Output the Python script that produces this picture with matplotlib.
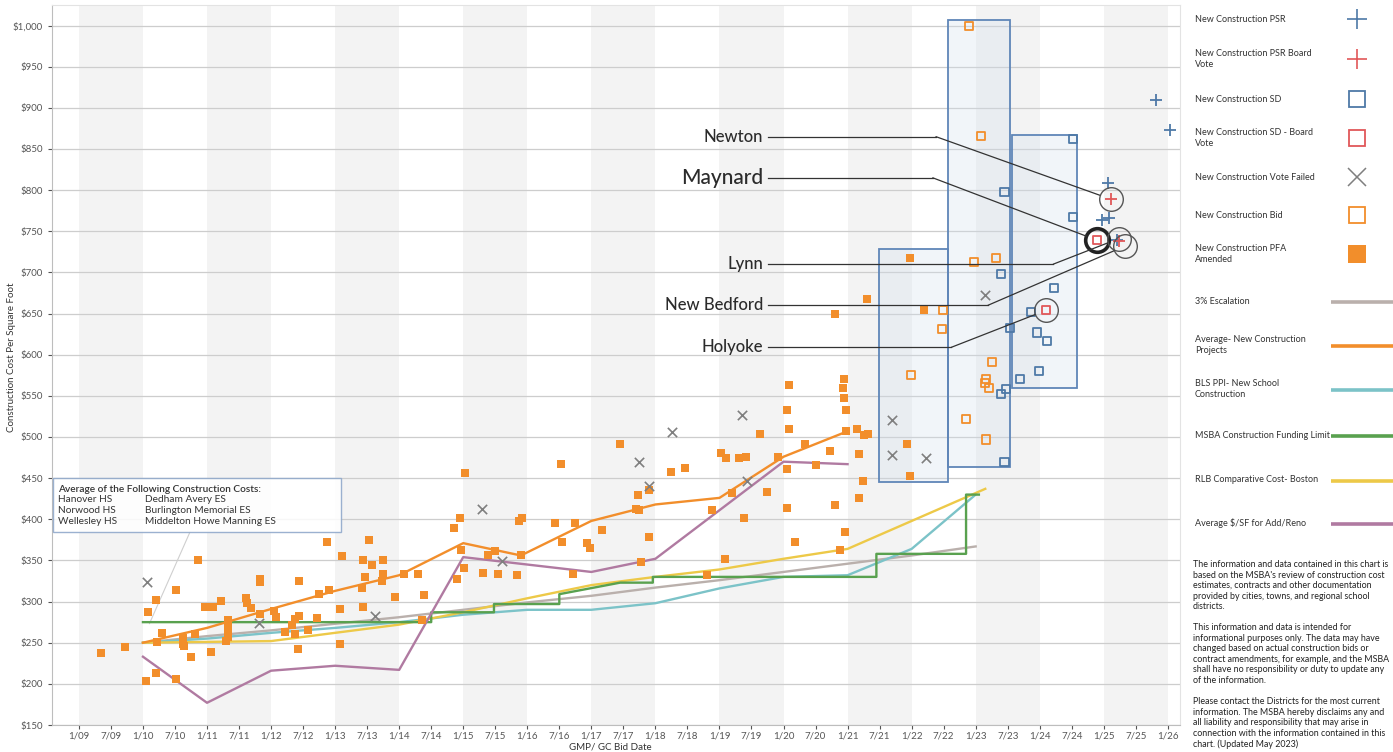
import matplotlib
matplotlib.use("Agg")
import matplotlib.pyplot as plt
from matplotlib.patches import Rectangle
import matplotlib.transforms as mtransforms

plt.rcParams['font.family'] = ['Lato', 'DejaVu Sans']

# ---------------- data ----------------
pfa_x = [2009.35, 2009.72, 2010.04, 2010.08, 2010.21, 2010.21, 2010.22, 2010.29, 2010.52, 2010.52,
         2010.63, 2010.63, 2010.64, 2010.75, 2010.81, 2010.86, 2010.97, 2011.03, 2011.09, 2011.07,
         2011.22, 2011.32, 2011.32, 2011.32, 2011.32, 2011.30, 2011.61, 2011.62, 2011.69, 2011.82,
         2011.83, 2011.82, 2012.04, 2012.07, 2012.22, 2012.33, 2012.37, 2012.44, 2012.37, 2012.42,
         2012.44, 2012.58, 2012.71, 2012.75, 2012.90, 2012.87, 2013.10, 2013.07, 2013.07, 2013.43,
         2013.58, 2013.74, 2013.47, 2013.75, 2013.73, 2013.42, 2013.44, 2013.53, 2013.93, 2014.08,
         2014.30, 2014.38, 2014.36, 2014.96, 2015.01, 2014.90, 2014.86, 2014.95, 2015.02, 2015.38,
         2015.50, 2015.31, 2015.55, 2015.84, 2015.90, 2015.87, 2015.92, 2016.53, 2016.44, 2016.75,
         2016.54, 2016.72, 2016.94, 2016.98, 2017.16, 2017.45, 2017.73, 2017.90, 2017.69, 2017.75,
         2017.90, 2017.78, 2018.25, 2018.47, 2018.81, 2018.89, 2019.08, 2019.03, 2019.11, 2019.19,
         2019.31, 2019.42, 2019.39, 2019.64, 2019.74, 2019.92, 2020.06, 2020.05, 2020.18, 2020.09,
         2020.06, 2020.09, 2020.33, 2020.50, 2020.73, 2020.80, 2020.88, 2020.96, 2020.94, 2020.93,
         2020.94, 2020.98, 2020.97, 2021.14, 2021.26, 2021.32, 2021.18, 2021.24, 2021.18, 2020.80,
         2021.31, 2021.97, 2022.20, 2021.93, 2021.97]
pfa_y = [237, 245, 203, 287, 302, 213, 251, 262, 314, 206,
         256, 249, 246, 233, 261, 350, 294, 293, 293, 239,
         301, 278, 268, 262, 257, 252, 304, 298, 292, 327,
         324, 285, 289, 281, 263, 271, 279, 282, 260, 242,
         325, 265, 280, 309, 314, 372, 355, 291, 248, 350,
         345, 350, 330, 333, 325, 316, 293, 375, 306, 333,
         334, 308, 277, 363, 341, 327, 390, 401, 456, 357,
         361, 335, 333, 332, 357, 398, 401, 467, 395, 395,
         372, 334, 371, 365, 387, 491, 430, 435, 413, 411,
         378, 348, 457, 462, 332, 411, 352, 480, 475, 432,
         474, 476, 401, 504, 433, 476, 461, 414, 372, 563,
         533, 510, 491, 466, 483, 417, 363, 385, 571, 559,
         548, 533, 507, 510, 503, 504, 479, 446, 426, 650,
         668, 718, 654, 491, 453]

bid_x = [2021.99, 2022.49, 2022.48, 2023.26, 2023.16, 2023.14, 2023.21, 2022.85, 2023.16,
         2022.90, 2023.09, 2022.98, 2023.32]
bid_y = [575, 654, 631, 591, 570, 566, 560, 522, 497, 1000, 866, 713, 717]

sd_x = [2024.52, 2023.45, 2024.52, 2023.39, 2024.22, 2023.86, 2023.96, 2024.12, 2023.53,
        2023.99, 2023.69, 2023.48, 2023.39, 2023.45]
sd_y = [862, 798, 767, 698, 681, 652, 627, 617, 633, 580, 571, 558, 552, 470]

sd_board_x = [2024.10, 2024.90]
sd_board_y = [654, 739]

psr_x = [2025.82, 2026.04, 2025.07, 2024.97, 2025.08, 2025.20]
psr_y = [910, 873, 809, 764, 766, 739]

psr_board_x = [2025.12, 2025.24]
psr_board_y = [789, 738]

failed_x = [2010.07, 2011.81, 2013.62, 2015.29, 2015.61, 2017.74, 2017.90, 2018.26, 2019.35,
            2019.43, 2021.69, 2021.69, 2022.23, 2023.14]
failed_y = [324, 274, 283, 413, 349, 470, 440, 506, 527, 446, 521, 478, 474, 672]

esc_x = [2010, 2011, 2012, 2013, 2014, 2015, 2016, 2017, 2018, 2019, 2020, 2021, 2022, 2023]
esc_y = [250, 258, 265, 273, 281, 290, 299, 307, 317, 326, 336, 346, 356, 367]

avg_x = [2010.0, 2011.0, 2012.0, 2013.0, 2014.0, 2015.0, 2015.9, 2017.0, 2018.0, 2019.0, 2020.0, 2021.0]
avg_y = [250, 268, 291, 313, 332, 371, 356, 398, 418, 426, 476, 507]

bls_x = [2010, 2011, 2012, 2013, 2014, 2015, 2016, 2017, 2018, 2019, 2020, 2021, 2022, 2023]
bls_y = [250, 255, 262, 268, 275, 284, 290, 290, 298, 316, 330, 332, 364, 430]

msba_x = [2010.0, 2014.5, 2014.5, 2015.48, 2015.48, 2016.5, 2016.5, 2017.45, 2017.96, 2017.96,
          2021.45, 2021.45, 2022.85, 2022.85, 2023.05]
msba_y = [275, 275, 287, 287, 297, 297, 309, 323, 323, 330, 330, 358, 358, 430, 430]

rlb_x = [2010, 2011, 2012, 2013, 2014, 2015, 2016, 2017, 2018, 2019, 2020, 2021, 2023.15]
rlb_y = [250, 251, 252, 262, 272, 287, 304, 320, 330, 339, 352, 364, 437]

reno_x = [2010.0, 2011.0, 2012.0, 2013.0, 2014.0, 2015.0, 2017.0, 2018.0, 2020.0, 2021.0]
reno_y = [233, 177, 216, 222, 217, 354, 336, 352, 470, 467]

# ranges (reference bands)
range_x0 = [2021.49, 2022.57, 2023.56]
range_x1 = [2022.57, 2023.53, 2024.58]
range_lo = [445, 463, 560]
range_hi = [729, 1007, 867]

# annotations
ann_names = ["Newton", "Maynard", "Lynn", "New Bedford", "Holyoke"]
ann_x = [2025.11, 2024.90, 2025.23, 2025.33, 2024.10]
ann_y = [789, 739, 741, 732, 654]
ann_label_y = [865, 815, 710, 660, 609]
ann_knee_x = [2022.38, 2022.33, 2024.21, 2023.19, 2022.62]
ann_size = [12, 15, 12, 12, 12]
ann_circle_lw = [1.0, 2.6, 1.0, 1.0, 1.0]

tick_years = [2009 + 0.5 * i for i in range(35)]
tick_labels = [("1/" if i % 2 == 0 else "7/") + "%02d" % ((2009 + i // 2) % 100) for i in range(35)]
y_ticks = list(range(150, 1001, 50))
y_labels = ["\\$" + format(v, ",") for v in y_ticks]

# colours
C_ORANGE = '#f28e2b'
C_BLUE = '#4e79a7'
C_RED = '#e15759'
C_GRAY = '#7f7f7f'
C_ESC = '#bab0ac'
C_TEAL = '#7cc3c8'
C_GREEN = '#59a14f'
C_YELLOW = '#edc948'
C_PURPLE = '#b07aa1'

W, H = 1393, 752
fig = plt.figure(figsize=(W / 100, H / 100), dpi=100)
ax = fig.add_axes([52 / W, 1 - 725 / H, (1180 - 52) / W, (725 - 5) / H])
ax.set_xlim(2008.58, 2026.19)
ax.set_ylim(150, 1025)

for yr in range(2009, 2026, 2):
    ax.axvspan(yr, yr + 1, color='#f3f3f3', lw=0, zorder=0)

ax.set_axisbelow(True)
ax.set_yticks(y_ticks)
ax.set_yticklabels(y_labels)
ax.yaxis.grid(True, color='#cdcdcd', lw=0.9)
ax.set_xticks(tick_years)
ax.set_xticklabels(tick_labels)
ax.tick_params(axis='both', labelsize=7, colors='#555555', length=3, width=0.8)
ax.tick_params(axis='x', pad=1.5)
for s in ['left', 'bottom']:
    ax.spines[s].set_color('#bdbdbd')
for s in ['top', 'right']:
    ax.spines[s].set_color('#e3e3e3')

# reference bands
for x0, x1, lo, hi in zip(range_x0, range_x1, range_lo, range_hi):
    ax.add_patch(Rectangle((x0, lo), x1 - x0, hi - lo, facecolor='#d3e0ee', alpha=0.3,
                           edgecolor='none', zorder=1))
    ax.add_patch(Rectangle((x0, lo), x1 - x0, hi - lo, facecolor='none',
                           edgecolor='#5f86b8', lw=1.3, zorder=2))

# lines
lw = 1.7
ax.plot(esc_x, esc_y, color=C_ESC, lw=lw, zorder=3)
ax.plot(bls_x, bls_y, color=C_TEAL, lw=lw, zorder=3)
ax.plot(rlb_x, rlb_y, color=C_YELLOW, lw=lw, zorder=3)
ax.plot(msba_x, msba_y, color=C_GREEN, lw=lw, zorder=3)
ax.plot(reno_x, reno_y, color=C_PURPLE, lw=lw, zorder=3)
ax.plot(avg_x, avg_y, color=C_ORANGE, lw=lw, zorder=3)

# markers
ax.scatter(pfa_x, pfa_y, marker='s', s=40, color=C_ORANGE, lw=0, zorder=4)
ax.scatter(bid_x, bid_y, marker='s', s=34, facecolor='none', edgecolor=C_ORANGE, lw=1.3, zorder=4)
ax.scatter(sd_x, sd_y, marker='s', s=34, facecolor='none', edgecolor=C_BLUE, lw=1.3, zorder=4)
ax.scatter(sd_board_x, sd_board_y, marker='s', s=34, facecolor='none', edgecolor=C_RED, lw=1.3, zorder=4)
ax.scatter(failed_x, failed_y, marker='x', s=45, color=C_GRAY, lw=1.2, zorder=4)
ax.scatter(psr_x, psr_y, marker='+', s=70, color=C_BLUE, lw=1.3, zorder=4)
ax.scatter(psr_board_x, psr_board_y, marker='+', s=70, color=C_RED, lw=1.3, zorder=4)

# annotations
label_x = 2019.68
line_x0 = 2019.76
for name, tx, ty, ly, kx, fs, clw in zip(ann_names, ann_x, ann_y, ann_label_y, ann_knee_x,
                                         ann_size, ann_circle_lw):
    ax.plot([tx], [ty], marker='o', ms=17, mfc='none', mec='#222222' if clw > 1.5 else '#555555',
            mew=clw, zorder=5)
    ax.text(label_x, ly, name, ha='right', va='center', fontsize=fs, color='#2b2b2b',
            weight='medium', zorder=6)
    ax.plot([line_x0, kx], [ly, ly], color='#333333', lw=0.9, zorder=5)
    ax.annotate("", xy=(tx, ty), xytext=(kx, ly),
                arrowprops=dict(arrowstyle='-', color='#333333', lw=0.9, shrinkA=0, shrinkB=8.5),
                zorder=5)

# ---------- overlay in pixel coordinates ----------
px = mtransforms.Affine2D().scale(1 / W, -1 / H).translate(0, 1) + fig.transFigure

fig.text(12 / W, 1 - 357 / H, "Construction Cost Per Square Foot", rotation=90, ha='center',
         va='center', fontsize=7, color='#333333')
fig.text(610 / W, 1 - 746.5 / H, "GMP/ GC Bid Date", ha='center', va='center', fontsize=7,
         color='#333333')

# info box
fig.patches.append(Rectangle((53, 478), 288, 54, transform=px, facecolor='white', alpha=0.85,
                             edgecolor='#8aa4c8', lw=1.0, zorder=10))
fig.text(58, 489, "Average of the Following Construction Costs:", transform=px, fontsize=7.3,
         va='center', color='#333333', weight='semibold', zorder=11)
col1 = ["Hanover HS", "Norwood HS", "Wellesley HS"]
col2 = ["Dedham Avery ES", "Burlington Memorial ES", "Middelton Howe Manning ES"]
for i, (a, b) in enumerate(zip(col1, col2)):
    fig.text(58, 500 + 10.7 * i, a, transform=px, fontsize=7.3, va='center', color='#333333', zorder=11)
    fig.text(145, 500 + 10.7 * i, b, transform=px, fontsize=7.3, va='center', color='#333333', zorder=11)
ax.annotate("", xy=(2010.1, 273), xycoords='data', xytext=(190, 532), textcoords=px,
            arrowprops=dict(arrowstyle='-', color='#cfcfcf', lw=0.8, shrinkA=0, shrinkB=0), zorder=2)

# legend
oax = fig.add_axes([0, 0, 1, 1], zorder=20)
oax.set_xlim(0, W)
oax.set_ylim(H, 0)
oax.axis('off')
oax.patch.set_alpha(0)

leg_text_x = 1195
leg_mark_x = 1357
marker_items = [
    ("New Construction PSR", 19, dict(marker='+', ms=14, mew=1.2, color=C_BLUE)),
    ("New Construction PSR Board\nVote", 59, dict(marker='+', ms=14, mew=1.2, color=C_RED)),
    ("New Construction SD", 99, dict(marker='s', ms=12, mew=1.3, mfc='none', mec=C_BLUE)),
    ("New Construction SD - Board\nVote", 138, dict(marker='s', ms=12, mew=1.3, mfc='none', mec=C_RED)),
    ("New Construction Vote Failed", 177, dict(marker='x', ms=13, mew=1.1, color=C_GRAY)),
    ("New Construction Bid", 215, dict(marker='s', ms=12, mew=1.3, mfc='none', mec=C_ORANGE)),
    ("New Construction PFA\nAmended", 254, dict(marker='s', ms=13, mew=0, color=C_ORANGE)),
]
for label, y, kw in marker_items:
    oax.text(leg_text_x, y, label, fontsize=6.5, va='center', ha='left', color='#333333',
             linespacing=1.4)
    oax.plot([leg_mark_x], [y], ls='none', **kw)

line_items = [
    ("3% Escalation", 301, C_ESC),
    ("Average- New Construction\nProjects", 345, C_ORANGE),
    ("BLS PPI- New School\nConstruction", 389, C_TEAL),
    ("MSBA Construction Funding Limit", 435, C_GREEN),
    ("RLB Comparative Cost- Boston", 480, C_YELLOW),
    ("Average \\$/SF for Add/Reno", 523, C_PURPLE),
]
for label, y, c in line_items:
    oax.text(leg_text_x, y, label, fontsize=6.5, va='center', ha='left', color='#333333',
             linespacing=1.4)
    oax.plot([1331, 1393], [y + 1, y + 1], color=c, lw=2.6, solid_capstyle='butt')

disclaimer = ("The information and data contained in this chart is\n"
              "based on the MSBA's review of construction cost\n"
              "estimates, contracts and other documentation\n"
              "provided by cities, towns, and regional school\n"
              "districts.\n\n"
              "This information and data is intended for\n"
              "informational purposes only. The data may have\n"
              "changed based on actual construction bids or\n"
              "contract amendments, for example, and the MSBA\n"
              "shall have no responsibility or duty to update any\n"
              "of the information.\n\n"
              "Please contact the Districts for the most current\n"
              "information. The MSBA hereby disclaims any and\n"
              "all liability and responsibility that may arise in\n"
              "connection with the information contained in this\n"
              "chart. (Updated May 2023)")
oax.text(1193, 560, disclaimer, fontsize=6.4, va='top', ha='left', color='#222222', linespacing=1.22)

fig.savefig("out.png", dpi=100)
